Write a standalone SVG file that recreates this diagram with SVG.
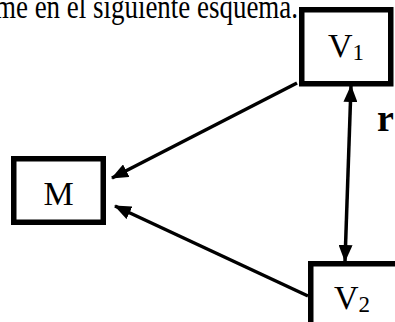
<svg xmlns="http://www.w3.org/2000/svg" width="395" height="322" viewBox="0 0 395 322">
<style>
.box{fill:#fff;stroke:#000;stroke-width:5.5}
.lbl{font-family:'Liberation Serif','DejaVu Serif',serif;font-size:34px;fill:#000}
.sub{font-size:23px}
.conn{stroke:#000;stroke-width:3.5;fill:none}
</style>
<defs>
<marker id="ah" markerWidth="17" markerHeight="14" refX="16" refY="7" orient="auto" markerUnits="userSpaceOnUse">
<path d="M0,0 L17,7 L0,14 Z" fill="#000"/>
</marker>
<marker id="ahs" markerWidth="17" markerHeight="14" refX="1" refY="7" orient="auto" markerUnits="userSpaceOnUse">
<path d="M17,0 L0,7 L17,14 Z" fill="#000"/>
</marker>
</defs>
<rect width="395" height="322" fill="#fff"/>
<text class="lbl" x="-5" y="18" textLength="303" lengthAdjust="spacingAndGlyphs" style="font-size:33px">me en el siguiente esquema.</text>
<g id="V1">
<rect class="box" x="301.75" y="9.75" width="89" height="74"/>
<text class="lbl" x="346" y="57" text-anchor="middle">V<tspan class="sub" dy="3">1</tspan></text>
</g>
<g id="M">
<rect class="box" x="13.75" y="158.75" width="89.5" height="63.5"/>
<text class="lbl" x="58.5" y="205" text-anchor="middle">M</text>
</g>
<g id="V2">
<rect class="box" x="310.75" y="263.75" width="100" height="70"/>
<text class="lbl" x="352" y="309" text-anchor="middle">V<tspan class="sub" dy="3">2</tspan></text>
</g>
<g id="connectors">
<line class="conn" x1="297" y1="83" x2="112" y2="178" marker-end="url(#ah)"/>
<line class="conn" x1="308" y1="296" x2="115" y2="206" marker-end="url(#ah)"/>
<line class="conn" x1="351" y1="86" x2="345" y2="261" marker-start="url(#ahs)" marker-end="url(#ah)"/>
</g>
<text class="lbl" x="377" y="131" style="font-weight:bold;font-size:38px">r</text>
</svg>
